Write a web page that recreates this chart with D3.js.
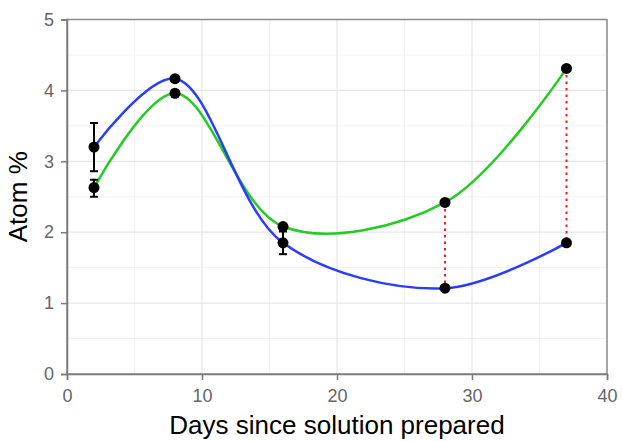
<!DOCTYPE html>
<html>
<head>
<meta charset="utf-8">
<script src="https://cdn.jsdelivr.net/npm/d3@7"></script>
<style>
  body { margin: 0; background: #fff; }
  text { font-family: "Liberation Sans", Arial, sans-serif; }
</style>
</head>
<body>
<svg id="chart" width="622" height="441"></svg>
<script>
// data
const days = [2, 8, 16, 28, 37];
const blueVals = [3.2, 4.165, 1.85, 1.21, 1.85];
const greenVals = [2.63, 3.96, 2.08, 2.42, 4.31];
// error bars [day, low, high]
const errBars = [
  [2, 2.86, 3.54],
  [2, 2.50, 2.74],
  [16, 1.69, 2.01]
];
// dotted gaps between the two series
const gapDays = [28, 37];
const xTicks = [0, 10, 20, 30, 40];
const yTicks = [0, 1, 2, 3, 4, 5];

const svg = d3.select("#chart");
const margin = { top: 19.5, right: 15, bottom: 67, left: 67 };
const width = +svg.attr("width") - margin.left - margin.right;
const height = +svg.attr("height") - margin.top - margin.bottom;

const g = svg.append("g").attr("transform", `translate(${margin.left},${margin.top})`);

const x = d3.scaleLinear().domain([0, 40]).range([0, width]);
const y = d3.scaleLinear().domain([0, 5]).range([height, 0]);

// grid (minor + major)
const minorX = d3.range(5, 40, 10);
const minorY = d3.range(0.5, 5, 1);
g.append("g").selectAll("line").data(minorX).join("line")
  .attr("x1", d => x(d)).attr("x2", d => x(d)).attr("y1", 0).attr("y2", height)
  .attr("stroke", "#f2f2f2").attr("stroke-width", 1);
g.append("g").selectAll("line").data(minorY).join("line")
  .attr("y1", d => y(d)).attr("y2", d => y(d)).attr("x1", 0).attr("x2", width)
  .attr("stroke", "#f2f2f2").attr("stroke-width", 1);
g.append("g").selectAll("line").data(xTicks).join("line")
  .attr("x1", d => x(d)).attr("x2", d => x(d)).attr("y1", 0).attr("y2", height)
  .attr("stroke", "#e6e6e6").attr("stroke-width", 1.2);
g.append("g").selectAll("line").data(yTicks).join("line")
  .attr("y1", d => y(d)).attr("y2", d => y(d)).attr("x1", 0).attr("x2", width)
  .attr("stroke", "#e6e6e6").attr("stroke-width", 1.2);

// panel border
g.append("rect")
  .attr("width", width).attr("height", height)
  .attr("fill", "none").attr("stroke", "#8c8c8c").attr("stroke-width", 1.5);

// axes
const xAxis = g.append("g")
  .attr("transform", `translate(0,${height})`)
  .call(d3.axisBottom(x).tickValues(xTicks).tickFormat(d3.format("d")).tickSize(6).tickPadding(9));
const yAxis = g.append("g")
  .call(d3.axisLeft(y).tickValues(yTicks).tickFormat(d3.format("d")).tickSize(6).tickPadding(7));
[xAxis, yAxis].forEach(a => {
  a.select(".domain").attr("stroke", "#7a7a7a").attr("stroke-width", 1.5);
  a.selectAll(".tick line").attr("stroke", "#7a7a7a").attr("stroke-width", 1.5);
  a.selectAll(".tick text").attr("fill", "#666").attr("font-size", "18px")
    .attr("font-family", "Liberation Sans, Arial, sans-serif");
});

// axis titles
svg.append("text")
  .attr("x", margin.left + width / 2)
  .attr("y", 434)
  .attr("text-anchor", "middle")
  .attr("font-size", "26px")
  .text("Days since solution prepared");
svg.append("text")
  .attr("transform", `translate(27,${margin.top + height / 2}) rotate(-90)`)
  .attr("text-anchor", "middle")
  .attr("font-size", "26px")
  .text("Atom %");

// dotted red gaps
g.selectAll(".gap").data(gapDays).join("line")
  .attr("class", "gap")
  .attr("x1", d => x(d)).attr("x2", d => x(d))
  .attr("y1", d => y(greenVals[days.indexOf(d)]))
  .attr("y2", d => y(blueVals[days.indexOf(d)]))
  .attr("stroke", "#ff1a1a").attr("stroke-width", 2)
  .attr("stroke-dasharray", "2.5 4");

// smooth curves
const line = d3.line().curve(d3.curveCatmullRom.alpha(0.5)).x(d => x(d[0])).y(d => y(d[1]));
g.append("path")
  .datum(days.map((d, i) => [d, greenVals[i]]))
  .attr("fill", "none").attr("stroke", "#22cc22").attr("stroke-width", 2.5)
  .attr("d", line);
g.append("path")
  .datum(days.map((d, i) => [d, blueVals[i]]))
  .attr("fill", "none").attr("stroke", "#2a3cff").attr("stroke-width", 2.5)
  .attr("d", line);

// error bars
const eb = g.append("g").attr("stroke", "#000").attr("stroke-width", 2);
errBars.forEach(([d, lo, hi]) => {
  eb.append("line").attr("x1", x(d)).attr("x2", x(d)).attr("y1", y(lo)).attr("y2", y(hi));
  eb.append("line").attr("x1", x(d) - 4).attr("x2", x(d) + 4).attr("y1", y(lo)).attr("y2", y(lo));
  eb.append("line").attr("x1", x(d) - 4).attr("x2", x(d) + 4).attr("y1", y(hi)).attr("y2", y(hi));
});

// points
const pts = days.map((d, i) => [d, blueVals[i]]).concat(days.map((d, i) => [d, greenVals[i]]));
g.selectAll("circle").data(pts).join("circle")
  .attr("cx", d => x(d[0])).attr("cy", d => y(d[1]))
  .attr("r", 5.5).attr("fill", "#000");
</script>
</body>
</html>
